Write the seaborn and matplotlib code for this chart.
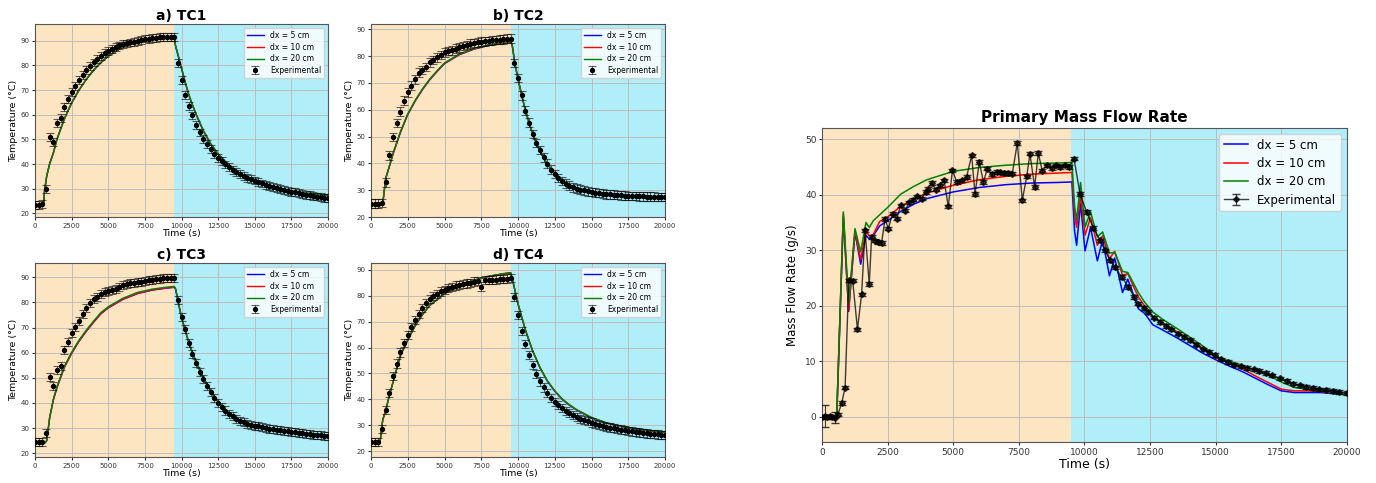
import numpy as np
import matplotlib
matplotlib.use("Agg")
import matplotlib.pyplot as plt
import seaborn as sns

# ---------------- data ----------------
# time grids (s)
t_exp = np.arange(0, 20001, 250)  # experimental thermocouple sampling
t_sim = [0, 500, 600, 650, 800, 1000, 1250, 1500, 2000, 2500, 3000, 3500, 4000, 4500, 5000,
         6000, 7000, 8000, 9000, 9500, 9600, 9800, 10000, 10250, 10500, 10750, 11000,
         11500, 12000, 12500, 13000, 13500, 14000, 15000, 16000, 17000, 18000, 19000, 20000]

# TC1
tc1_exp = [23.5, 23.5, 23.6, 30.0, 51.0, 49.0, 56.5, 58.5, 63.0, 66.2, 69.2, 71.8, 74.1, 76.1, 78.0, 79.7,
           81.2, 82.5, 83.8, 85.0, 85.9, 86.8, 87.6, 88.1, 88.6, 88.9, 89.3, 89.6, 89.9, 90.2, 90.9, 90.6,
           91.0, 91.3, 91.4, 91.5, 91.6, 91.6, 91.6, 81.0, 74.0, 68.1, 63.5, 59.7, 56.0, 52.8, 50.2, 48.0,
           46.0, 44.2, 42.5, 41.1, 39.8, 38.7, 37.7, 36.8, 35.9, 35.2, 34.5, 33.9, 33.3, 32.7, 32.1, 31.6,
           31.1, 30.7, 30.3, 29.9, 29.5, 29.1, 28.8, 28.5, 28.2, 27.9, 27.6, 27.3, 27.0, 26.8, 26.5, 26.3, 26.1]
tc1_dx20 = [23.5, 23.5, 24.0, 29.0, 35.0, 40.0, 44.3, 50.0, 58.3, 64.8, 70.0, 74.4, 78.2, 81.3, 83.9,
            87.6, 89.4, 90.5, 91.2, 91.5, 87.8, 83.5, 79.0, 73.3, 68.2, 64.0, 60.2,
            53.5, 48.2, 44.2, 41.0, 38.4, 36.3, 33.2, 31.1, 29.6, 28.5, 27.9, 27.4]
tc1_dx10 = [23.5, 23.5, 24.0, 29.1, 35.1, 40.1, 44.4, 50.1, 58.3, 64.8, 70.0, 74.4, 78.1, 81.2, 83.8,
            87.5, 89.3, 90.4, 91.1, 91.4, 87.7, 83.4, 78.9, 73.2, 68.1, 63.9, 60.1,
            53.4, 48.1, 44.1, 40.9, 38.3, 36.2, 33.1, 31.0, 29.5, 28.4, 27.8, 27.3]
tc1_dx5 = [23.5, 23.5, 24.0, 29.1, 35.2, 40.2, 44.5, 50.1, 58.2, 64.7, 69.9, 74.3, 78.0, 81.1, 83.7,
           87.5, 89.3, 90.5, 91.2, 91.5, 87.7, 83.3, 78.8, 73.1, 68.0, 63.8, 60.0,
           53.3, 48.0, 44.0, 40.8, 38.2, 36.1, 33.0, 30.9, 29.5, 28.4, 27.8, 27.3]

# TC2
tc2_exp = [25.0, 25.0, 25.0, 25.2, 32.9, 43.0, 49.9, 55.1, 59.3, 63.4, 66.5, 69.0, 71.3, 73.9, 74.9, 76.0,
           77.7, 78.5, 79.6, 80.4, 81.4, 81.9, 82.2, 82.8, 83.3, 83.8, 84.2, 84.7, 84.9, 85.1, 85.4, 85.5,
           85.7, 85.9, 86.0, 86.2, 86.3, 86.5, 86.5, 77.5, 71.8, 65.4, 59.7, 55.2, 51.0, 47.6, 45.0, 42.3,
           39.9, 37.7, 36.0, 34.6, 33.4, 32.4, 31.7, 31.1, 30.6, 30.2, 29.9, 29.6, 29.3, 29.1, 28.9, 28.7,
           28.5, 28.4, 28.3, 28.2, 28.1, 28.0, 27.9, 27.8, 27.8, 27.7, 27.7, 27.6, 27.6, 27.6, 27.5, 27.5, 27.5]
tc2_dx20 = [24.5, 24.5, 24.5, 24.5, 25.0, 34.5, 39.0, 43.8, 51.8, 58.5, 63.5, 67.8, 71.5, 74.6, 77.5,
            80.8, 82.9, 84.3, 85.1, 85.6, 84.5, 77.0, 71.7, 65.5, 60.0, 55.3, 51.0,
            44.5, 39.8, 36.4, 33.8, 32.0, 30.7, 29.2, 28.3, 27.8, 27.5, 27.3, 27.2]
tc2_dx10 = [24.5, 24.5, 24.5, 24.5, 25.0, 34.4, 38.9, 43.6, 51.6, 58.3, 63.3, 67.6, 71.3, 74.4, 77.3,
            80.6, 82.7, 84.1, 84.9, 85.4, 84.3, 76.9, 71.6, 65.4, 59.9, 55.2, 50.9,
            44.4, 39.7, 36.3, 33.7, 31.9, 30.6, 29.1, 28.2, 27.7, 27.4, 27.2, 27.1]
tc2_dx5 = [24.5, 24.5, 24.5, 24.5, 25.0, 34.3, 38.8, 43.5, 51.5, 58.2, 63.2, 67.5, 71.2, 74.3, 77.2,
           80.5, 82.6, 84.0, 84.8, 85.3, 84.2, 76.8, 71.5, 65.3, 59.8, 55.1, 50.8,
           44.3, 39.6, 36.2, 33.6, 31.8, 30.5, 29.0, 28.2, 27.7, 27.4, 27.2, 27.1]

# TC3
tc3_exp = [24.3, 24.3, 24.3, 28.2, 50.5, 46.8, 53.1, 54.7, 61.2, 64.4, 68.0, 70.4, 72.8, 75.3, 77.9, 79.8,
           81.2, 82.3, 83.3, 84.2, 84.5, 84.8, 85.4, 86.1, 86.8, 87.2, 87.6, 87.9, 88.1, 88.2, 88.5, 88.8,
           89.1, 89.3, 89.5, 89.6, 89.6, 89.6, 89.8, 80.8, 74.4, 69.5, 63.7, 59.6, 55.9, 52.5, 49.5, 46.7,
           44.3, 41.8, 39.8, 38.4, 37.0, 35.8, 34.7, 33.8, 33.0, 32.3, 31.8, 31.4, 31.0, 30.7, 30.4, 30.1,
           29.8, 29.5, 29.3, 29.1, 28.9, 28.7, 28.5, 28.3, 28.1, 27.9, 27.7, 27.6, 27.4, 27.3, 27.1, 27.0, 26.9]
tc3_dx20 = [24.0, 24.0, 24.0, 24.0, 25.0, 34.3, 41.5, 46.5, 54.6, 60.2, 65.0, 69.0, 72.6, 76.0, 78.3,
            81.7, 84.0, 85.3, 86.1, 86.4, 85.5, 79.5, 74.2, 69.0, 64.2, 60.0, 56.3,
            50.0, 44.8, 40.5, 37.3, 35.0, 33.2, 31.0, 29.8, 29.0, 28.3, 27.7, 27.2]
tc3_dx10 = [24.0, 24.0, 24.0, 24.0, 25.0, 34.1, 41.2, 46.2, 54.2, 59.8, 64.6, 68.6, 72.2, 75.6, 77.9,
            81.3, 83.6, 85.0, 85.8, 86.1, 85.3, 79.4, 74.1, 68.9, 64.1, 59.9, 56.2,
            49.9, 44.7, 40.4, 37.2, 34.9, 33.1, 30.9, 29.7, 28.9, 28.2, 27.6, 27.1]
tc3_dx5 = [24.0, 24.0, 24.0, 24.0, 25.0, 34.0, 41.1, 46.1, 54.1, 59.7, 64.5, 68.5, 72.1, 75.5, 77.8,
           81.2, 83.5, 84.9, 85.7, 86.0, 85.2, 79.3, 74.0, 68.8, 64.0, 59.8, 56.1,
           49.8, 44.6, 40.3, 37.1, 34.8, 33.0, 30.8, 29.6, 28.8, 28.2, 27.6, 27.1]

# TC4
tc4_exp = [23.5, 23.5, 23.5, 28.5, 36.0, 42.5, 48.9, 53.8, 58.1, 61.7, 64.9, 68.0, 70.6, 73.1, 75.4, 77.3,
           78.8, 79.9, 80.8, 81.7, 82.4, 83.0, 83.5, 84.0, 84.3, 84.6, 84.8, 85.1, 85.5, 85.7, 83.6, 86.0,
           86.1, 86.2, 86.3, 86.4, 86.5, 86.7, 86.8, 79.5, 72.5, 66.5, 61.5, 57.0, 53.3, 49.8, 46.9, 44.6,
           42.5, 40.6, 39.1, 37.9, 36.7, 35.5, 34.6, 33.9, 33.2, 32.5, 32.0, 31.5, 31.0, 30.5, 30.1, 29.7,
           29.4, 29.1, 28.8, 28.6, 28.3, 28.0, 27.8, 27.6, 27.4, 27.2, 27.0, 26.8, 26.7, 26.5, 26.4, 26.3, 26.2]
tc4_dx20 = [23.5, 23.5, 23.5, 25.0, 32.0, 35.5, 41.5, 46.5, 57.0, 63.0, 68.5, 72.8, 76.5, 78.6, 81.0,
            83.8, 86.1, 87.6, 88.6, 89.0, 87.0, 82.0, 77.0, 72.0, 67.0, 62.8, 58.8,
            52.3, 47.2, 43.3, 40.2, 37.9, 36.0, 33.0, 31.0, 29.6, 28.6, 27.9, 27.4]
tc4_dx10 = [23.5, 23.5, 23.5, 25.1, 32.1, 35.6, 41.6, 46.6, 57.0, 63.0, 68.4, 72.7, 76.4, 78.5, 80.9,
            83.7, 86.0, 87.5, 88.5, 88.9, 86.9, 81.9, 76.9, 71.9, 66.9, 62.7, 58.7,
            52.2, 47.1, 43.2, 40.1, 37.8, 35.9, 32.9, 30.9, 29.5, 28.5, 27.8, 27.3]
tc4_dx5 = [23.5, 23.5, 23.5, 25.1, 32.2, 35.7, 41.7, 46.7, 56.9, 62.9, 68.4, 72.7, 76.3, 78.5, 80.9,
           83.7, 86.0, 87.5, 88.5, 88.9, 86.8, 81.8, 76.8, 71.8, 66.8, 62.6, 58.6,
           52.1, 47.0, 43.1, 40.0, 37.7, 35.8, 32.8, 30.8, 29.5, 28.5, 27.8, 27.3]

TC_ERR = 1.6

# Primary mass flow rate
t_mfr_sim = [0, 400, 500, 560, 813, 1016, 1257, 1473, 1676, 1803, 1950, 2200, 2500, 3000, 3500,
             4000, 5000, 6000, 7000, 8000, 9000, 9520, 9620, 9700, 9850, 10020, 10230, 10490, 10690,
             10950, 11150, 11450, 11650, 12050, 12300, 12600, 13000, 13500, 14000, 14500, 15000,
             15500, 16000, 16500, 17000, 17500, 18000, 18500, 19000, 19500, 20000]
mfr_dx5 = [0.0, -0.4, -0.5, -0.3, 36.0, 19.0, 33.2, 27.5, 32.7, 32.0, 32.6, 34.4, 35.3, 37.0, 38.3,
           39.3, 40.5, 41.3, 41.8, 42.1, 42.2, 42.3, 33.5, 30.9, 38.4, 29.9, 34.1, 28.1, 31.9,
           25.4, 28.6, 22.4, 24.8, 19.5, 18.6, 16.6, 15.6, 14.3, 12.9, 11.5, 10.3,
           9.2, 8.2, 7.0, 5.8, 4.7, 4.4, 4.4, 4.4, 4.2, 4.0]
mfr_dx10 = [0.0, 0.0, 0.0, 0.2, 36.5, 19.2, 33.5, 28.3, 33.3, 32.6, 32.8, 35.2, 36.0, 37.9, 39.2,
            40.3, 41.7, 42.7, 43.3, 43.7, 43.9, 44.0, 36.5, 34.1, 39.9, 32.7, 35.9, 30.9, 32.6,
            28.5, 29.8, 25.5, 25.8, 21.6, 19.9, 18.0, 16.9, 15.4, 14.0, 12.4, 10.7,
            9.7, 8.7, 7.4, 6.2, 5.0, 4.7, 4.7, 4.6, 4.3, 4.0]
mfr_dx20 = [0.0, 0.0, 0.0, 0.2, 36.9, 20.5, 33.9, 29.7, 35.0, 34.1, 35.3, 36.4, 37.7, 40.1, 41.5,
            42.7, 44.2, 44.9, 45.3, 45.6, 45.7, 45.8, 38.0, 35.4, 42.2, 34.2, 36.9, 32.4, 33.3,
            29.5, 29.6, 26.2, 26.0, 22.4, 20.6, 18.9, 17.5, 16.0, 14.4, 12.8, 10.9,
            10.1, 9.3, 8.4, 7.5, 6.3, 5.3, 5.0, 4.8, 4.4, 4.0]

t_mfr_exp = [0, 100, 200, 300, 400, 500, 600, 750, 880, 1020, 1170, 1350, 1510, 1640, 1800, 1890,
             2020, 2150, 2270, 2400, 2530, 2690, 2850, 3000, 3160, 3330, 3480, 3630, 3800, 3950,
             4050, 4180, 4340, 4500, 4650, 4810, 4970, 5130, 5320, 5510, 5700, 5830, 5990, 6150,
             6300, 6460, 6650, 6800, 6950, 7100, 7250, 7440, 7630, 7800, 7920, 8100, 8240, 8390,
             8560, 8750, 8910, 9070, 9260, 9400, 9600, 9830, 10080, 10340, 10590, 10780, 10970,
             11160, 11420, 11670, 11900, 12050, 12250, 12430, 12650, 12880, 13100, 13300, 13550,
             13800, 14020, 14250, 14500, 14750, 14970, 15200, 15450, 15700, 15950, 16200, 16450,
             16650, 16900, 17150, 17450, 17700, 17950, 18200, 18450, 18700, 18950, 19200, 19450,
             19700, 20000]
mfr_exp = [0.0, 0.2, 0.0, 0.1, 0.0, -0.1, 0.4, 2.5, 5.3, 24.6, 24.5, 15.8, 22.1, 33.6, 23.9, 32.4,
           31.7, 31.5, 31.3, 35.6, 33.9, 36.6, 35.7, 38.1, 37.1, 38.6, 39.1, 39.7, 39.3, 40.5,
           41.0, 42.1, 40.9, 41.7, 42.6, 37.9, 44.4, 42.3, 42.6, 43.2, 47.1, 40.1, 45.9, 42.3,
           44.7, 43.7, 44.1, 44.0, 43.9, 43.9, 43.8, 49.3, 39.0, 43.3, 47.4, 41.4, 47.5, 44.3,
           45.3, 44.8, 45.3, 45.0, 45.3, 45.0, 46.5, 40.1, 36.9, 34.0, 31.8, 30.0, 28.2,
           26.9, 25.2, 23.4, 21.6, 20.4, 19.6, 18.9, 17.9, 17.1, 16.4, 15.8, 15.0,
           14.4, 13.85, 13.0, 12.2, 11.7, 11.15, 10.4, 9.9, 9.4, 9.1, 8.8, 8.6,
           8.3, 7.9, 7.5, 6.95, 6.5, 6.0, 5.7, 5.4, 5.2, 5.0, 4.9, 4.7,
           4.5, 4.3]
mfr_err_start = [0.3, 2.0, 0.3, 0.3, 0.3, 1.0, 0.3]
MFR_ERR = 0.3

SWITCH_T = 9500
HEAT = "#FEE5C2"
COOL = "#B0EEF9"

# ---------------- figure ----------------
W, H = 1376, 483
fig = plt.figure(figsize=(W / 100, H / 100), dpi=100)


def ax_at(l, t, r, b):
    return fig.add_axes([l / W, 1 - b / H, (r - l) / W, (b - t) / H])


def style(ax, tick_size):
    ax.axvspan(0, SWITCH_T, color=HEAT, zorder=0, lw=0)
    ax.axvspan(SWITCH_T, 20000, color=COOL, zorder=0, lw=0)
    ax.grid(True, color="#bdbdbd", lw=0.7)
    ax.set_xlim(0, 20000)
    ax.set_xticks(range(0, 20001, 2500))
    ax.tick_params(labelsize=tick_size, length=2.5, pad=1.5, colors="#333333")
    for s in ax.spines.values():
        s.set_color("#555555")


panels = [
    ("a) TC1", tc1_exp, tc1_dx5, tc1_dx10, tc1_dx20, (35, 24, 328, 217), (18.5, 96.8)),
    ("b) TC2", tc2_exp, tc2_dx5, tc2_dx10, tc2_dx20, (371, 24, 665, 217), (20.0, 92.0)),
    ("c) TC3", tc3_exp, tc3_dx5, tc3_dx10, tc3_dx20, (35, 263, 328, 457), (18.5, 95.7)),
    ("d) TC4", tc4_exp, tc4_dx5, tc4_dx10, tc4_dx20, (371, 263, 665, 457), (17.7, 92.7)),
]

for title, exp, d5, d10, d20, box, ylim in panels:
    ax = ax_at(*box)
    style(ax, 5)
    sns.lineplot(x=t_sim, y=d5, color="blue", lw=1.0, label="dx = 5 cm", ax=ax)
    sns.lineplot(x=t_sim, y=d10, color="red", lw=1.0, label="dx = 10 cm", ax=ax)
    sns.lineplot(x=t_sim, y=d20, color="green", lw=1.0, label="dx = 20 cm", ax=ax)
    ax.errorbar(t_exp, exp, yerr=TC_ERR, fmt="o", color="black", ms=2.8, capsize=2.8,
                elinewidth=0.8, capthick=0.8, ecolor=(0, 0, 0, 0.6), label="Experimental", zorder=3)
    ax.set_ylim(*ylim)
    ax.set_yticks(range(20, 100, 10) if ylim[1] > 90 else range(20, 91, 10))
    ax.set_title(title, fontsize=10, fontweight="bold", pad=3)
    ax.set_xlabel("Time (s)", fontsize=6.8, labelpad=0.5)
    ax.set_ylabel("Temperature (°C)", fontsize=6.8, labelpad=2)
    ax.legend(loc="upper right", fontsize=5.5, framealpha=0.8, borderpad=0.4,
              labelspacing=0.35, handlelength=2.2)

# right panel
ax = ax_at(822, 128, 1347, 442)
style(ax, 6.5)
sns.lineplot(x=t_mfr_sim, y=mfr_dx5, color="blue", lw=1.1, label="dx = 5 cm", ax=ax)
sns.lineplot(x=t_mfr_sim, y=mfr_dx10, color="red", lw=1.1, label="dx = 10 cm", ax=ax)
sns.lineplot(x=t_mfr_sim, y=mfr_dx20, color="green", lw=1.1, label="dx = 20 cm", ax=ax)
mfr_err = mfr_err_start + [MFR_ERR] * (len(mfr_exp) - len(mfr_err_start))
ax.errorbar(t_mfr_exp, mfr_exp, yerr=mfr_err, fmt="-D", color="black", ms=3.0, lw=1.0,
            capsize=3, elinewidth=0.8, alpha=0.75, label="Experimental", zorder=3)
ax.set_ylim(-4.5, 52)
ax.set_yticks(range(0, 51, 10))
ax.set_title("Primary Mass Flow Rate", fontsize=11, fontweight="bold", pad=4)
ax.set_xlabel("Time (s)", fontsize=9, labelpad=1)
ax.set_ylabel("Mass Flow Rate (g/s)", fontsize=8.5, labelpad=4)
ax.legend(loc="upper right", fontsize=8.5, framealpha=0.8, borderpad=0.4, labelspacing=0.45)

fig.savefig("out.png", dpi=100)
